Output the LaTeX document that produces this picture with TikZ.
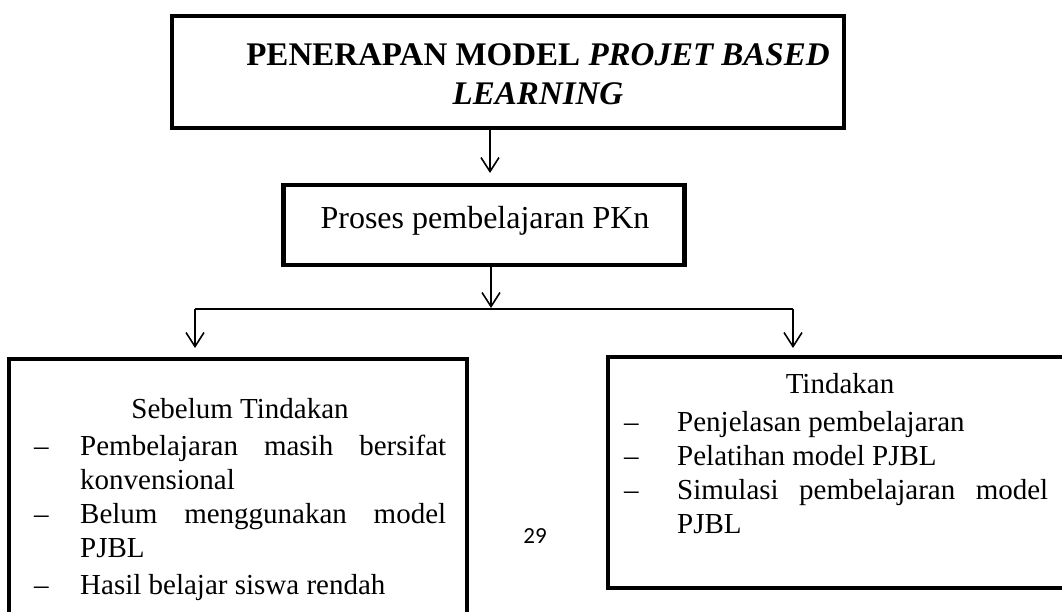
\documentclass[tikz,border=0pt]{standalone}
\usepackage{fontspec}
\setmainfont{Liberation Serif}
\newfontfamily\pagefont{Carlito}
\usetikzlibrary{arrows.meta}
\begin{document}
\begin{tikzpicture}[x=1pt,y=-1pt,
  box/.style={draw, line width=4.5pt, inner sep=0pt, outer sep=0pt},
  conn/.style={line width=1.6pt},
  arr/.style={conn, -{Straight Barb[length=14pt,width=18pt,line width=1.6pt]}},
  txt/.style={inner sep=0pt, anchor=base west, font=\fontsize{29}{34}\selectfont},
  ttl/.style={inner sep=0pt, align=center, font=\fontsize{33}{39}\selectfont\bfseries},
]
\useasboundingbox (0,0) rectangle (1062,612);
\clip (0,0) rectangle (1062,612);
% boxes
\node[box, minimum width=672pt, minimum height=112pt] (top) at (508,72) {};
\node[ttl] (toptxt) at (538,74) {PENERAPAN MODEL \textit{PROJET BASED}\\ \textit{LEARNING}};
\node[box, minimum width=401pt, minimum height=80pt] (proses) at (484,225) {};
\node[inner sep=0pt, anchor=base, font=\fontsize{32}{36}\selectfont] (prosestxt) at (485,229) {Proses pembelajaran PKn};
\node[box, minimum width=458pt, minimum height=300pt] (left) at (238,509) {};
\node[box, minimum width=472pt, minimum height=231pt] (right) at (844,472.5) {};
% connectors
\coordinate (c1) at (490,0);
\coordinate (c2) at (491,0);
\coordinate (jl) at (195,309);
\coordinate (jr) at (793,309);
\draw[arr, shorten >=12pt] (top.south -| c1) -- (proses.north -| c1);
\draw[arr, shorten >=1pt] (proses.south -| c2) -- (c2 |- jl);
\draw[conn] (jl) -- (jr);
\draw[arr, shorten >=11pt] (jl) -- (left.north -| jl);
\draw[arr, shorten >=9pt] (jr) -- (right.north -| jr);
% left box text
\node[txt, anchor=base] (l0) at (240,418) {Sebelum Tindakan};
\node[txt] (ld1) at (34,455) {–};
\node[txt] (l1) at (80,455) {\makebox[366pt][s]{Pembelajaran\hfill masih\hfill bersifat}};
\node[txt] (l2) at (80,489) {konvensional};
\node[txt] (ld2) at (34,523) {–};
\node[txt] (l3) at (80,523) {\makebox[366pt][s]{Belum\hfill menggunakan\hfill model}};
\node[txt] (l4) at (80,557) {PJBL};
\node[txt] (ld3) at (34,594) {–};
\node[txt] (l5) at (80,594) {Hasil belajar siswa rendah};
% right box text
\node[txt, anchor=base] (r0) at (840,393) {Tindakan};
\node[txt] (rd1) at (624,431) {–};
\node[txt] (r1) at (677,431) {Penjelasan pembelajaran};
\node[txt] (rd2) at (624,465) {–};
\node[txt] (r2) at (677,465) {Pelatihan model PJBL};
\node[txt] (rd3) at (624,499) {–};
\node[txt] (r3) at (677,499) {\makebox[371pt][s]{Simulasi\hfill pembelajaran\hfill model}};
\node[txt] (r4) at (677,533) {PJBL};
% page number
\node[inner sep=0pt, anchor=base, font=\pagefont\fontsize{23}{26}\selectfont] (pg) at (535,543) {29};
\end{tikzpicture}
\end{document}
